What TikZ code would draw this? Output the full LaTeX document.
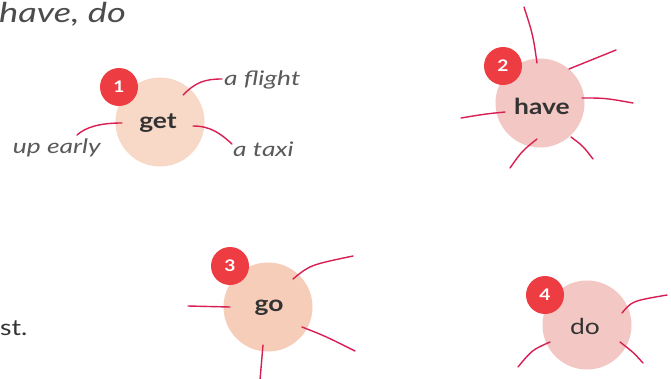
\documentclass[tikz,border=0pt]{standalone}
\usepackage{fontspec}
\setmainfont{Lato}
\newfontfamily\lblfont[FakeStretch=1.32]{Lato}
\newfontfamily\wordfont[FakeStretch=1.2]{Lato}
\definecolor{peach}{HTML}{F8D9C7}
\definecolor{peachb}{HTML}{F6CDB9}
\definecolor{pinkc}{HTML}{F3C8C4}
\definecolor{badgered}{HTML}{EE3C43}
\definecolor{linered}{HTML}{D81E52}
\definecolor{labelgray}{HTML}{5A5A5A}
\definecolor{worddark}{HTML}{333333}
\begin{document}
\begin{tikzpicture}[x=1pt,y=-1pt,
  bubble/.style={circle,minimum size=89pt,inner sep=0pt},
  word/.style={inner sep=0pt,text=worddark,font=\wordfont\fontsize{22}{22}\selectfont\bfseries},
  badge/.style={circle,minimum size=38pt,inner sep=0pt,fill=badgered,text=white,font=\wordfont\fontsize{16}{16}\selectfont\bfseries},
  spoke/.style={draw=linered,line width=1.4pt,line cap=round},
  lbl/.style={inner sep=0pt,text=labelgray,font=\lblfont\fontsize{20}{20}\selectfont\itshape}]
\useasboundingbox (0,0) rectangle (671,378);
\fill[white] (0,0) rectangle (671,378);
% title
\node[inner sep=0pt,anchor=base west,text=labelgray!85!black,font=\lblfont\fontsize{27.5}{27.5}\selectfont\itshape] (title) at (-1,22) {have, do};
\node[word,anchor=base west,font=\wordfont\fontsize{22}{22}\selectfont] (st) at (0,335) {st.};
% bubble 1: get
\node[bubble,fill=peach] (b1) at (160,122) {};
\node[word] (w1) at (158,123) {get};
\node[badge] (n1) at (119,87) {1};
\coordinate (g1a) at (183,95);
\coordinate (g1b) at (222,79);
\coordinate (g2a) at (122,123);
\coordinate (g2b) at (77,135);
\coordinate (g3a) at (193,126);
\coordinate (g3b) at (232,144);
\draw[spoke] (g1a) .. controls (196,82) and (205,79) .. (g1b);
\draw[spoke] (g2a) .. controls (100,123) and (86,127) .. (g2b);
\draw[spoke] (g3a) .. controls (210,126) and (220,133) .. (g3b);
\node[lbl,anchor=west] (l1) at (224,80) {a flight};
\node[lbl,anchor=east] (l2) at (101,148) {up early};
\node[lbl,anchor=west] (l3) at (233,149) {a taxi};
% bubble 2: have
\node[bubble,fill=pinkc] (b2) at (540,103) {};
\node[word] (w2) at (542,106) {have};
\node[badge] (n2) at (503,66) {2};
\coordinate (h1a) at (537,63);
\coordinate (h1b) at (524,7);
\coordinate (h2a) at (569,69);
\coordinate (h2b) at (616,50);
\coordinate (h3a) at (582,98);
\coordinate (h3b) at (633,103);
\coordinate (h4a) at (505,112);
\coordinate (h4b) at (461,118);
\coordinate (h5a) at (537,139);
\coordinate (h5b) at (510,168);
\coordinate (h6a) at (571,137);
\coordinate (h6b) at (593,159);
\draw[spoke] (h1a) .. controls (533,35) .. (h1b);
\draw[spoke] (h2a) -- (h2b);
\draw[spoke] (h3a) .. controls (605,98) .. (h3b);
\draw[spoke] (h4a) .. controls (485,114) .. (h4b);
\draw[spoke] (h5a) .. controls (522,151) .. (h5b);
\draw[spoke] (h6a) .. controls (583,146) .. (h6b);
% bubble 3: go
\node[bubble,fill=peachb] (b3) at (268,307) {};
\node[word] (w3) at (269,308) {go};
\node[badge] (n3) at (230,266) {3};
\coordinate (o1a) at (230,307);
\coordinate (o1b) at (188,306);
\coordinate (o2a) at (293,279);
\coordinate (o2b) at (353,256);
\coordinate (o3a) at (302,327);
\coordinate (o3b) at (355,351);
\coordinate (o4a) at (263,345);
\coordinate (o4b) at (260,380);
\draw[spoke] (o1a) -- (o1b);
\draw[spoke] (o2a) .. controls (310,265) .. (o2b);
\draw[spoke] (o3a) .. controls (325,336) .. (o3b);
\draw[spoke] (o4a) .. controls (261,362) .. (o4b);
% bubble 4: do
\node[bubble,fill=pinkc] (b4) at (587,325) {};
\node[word,font=\wordfont\fontsize{22}{22}\selectfont] (w4) at (585,326) {do};
\node[badge] (n4) at (545,295) {4};
\coordinate (d1a) at (622,313);
\coordinate (d1b) at (667,295);
\coordinate (d2a) at (550,342);
\coordinate (d2b) at (518,367);
\coordinate (d3a) at (620,342);
\coordinate (d3b) at (643,363);
\draw[spoke] (d1a) .. controls (632,301) .. (d1b);
\draw[spoke] (d2a) .. controls (532,350) .. (d2b);
\draw[spoke] (d3a) .. controls (633,352) .. (d3b);
\end{tikzpicture}
\end{document}
